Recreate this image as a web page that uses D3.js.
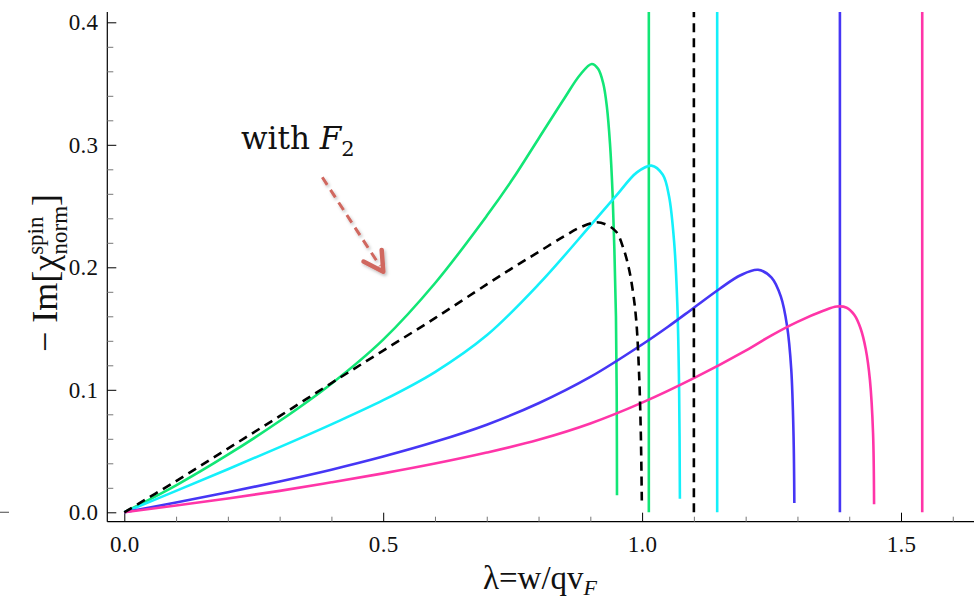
<!DOCTYPE html>
<html><head><meta charset="utf-8">
<script src="https://cdn.jsdelivr.net/npm/d3@7"></script>
<style>
html,body{margin:0;padding:0;background:#fff;}
svg{display:block;}
</style></head>
<body>
<svg id="chart" width="974" height="603"></svg>
<script>
// ---------------- data ----------------
const xMajorTicks = [0, 0.5, 1.0, 1.5];
const xMinorTicks = [0.1,0.2,0.3,0.4,0.6,0.7,0.8,0.9,1.1,1.2,1.3,1.4,1.6];
const yMajorTicks = [0, 0.1, 0.2, 0.3, 0.4];
const yMinorTicks = [0.02,0.04,0.06,0.08,0.12,0.14,0.16,0.18,0.22,0.24,0.26,0.28,0.32,0.34,0.36,0.38];

const seriesNames = ["green","cyan","blue","magenta","withF2"];
const seriesColors = ["#12e676","#14f0fa","#4636f5","#ff35a8","#000000"];

const greenX = [0,0.1,0.2,0.3,0.4,0.5,0.6,0.7,0.75,0.8,0.85,0.88,0.9027,0.915,0.925,0.932,0.938,0.943,0.9465,0.9495,0.951,0.9515];
const greenY = [0,0.022,0.047,0.0745,0.105,0.141,0.187,0.242,0.272,0.305,0.338,0.357,0.366,0.362,0.350,0.331,0.301,0.26,0.214,0.16,0.09,0.014];

const cyanX = [0,0.1,0.2,0.3,0.4,0.5,0.6,0.7,0.8,0.9,0.95,0.99,1.018,1.04,1.052,1.062,1.068,1.0715,1.073];
const cyanY = [0,0.0175,0.0352,0.0532,0.0718,0.0915,0.1145,0.1445,0.186,0.234,0.2585,0.2775,0.283,0.2755,0.258,0.22,0.17,0.10,0.011];

const blueX = [0,0.1,0.2,0.3,0.4,0.5,0.6,0.7,0.8,0.9,1.0,1.05,1.1,1.15,1.19,1.224,1.25,1.268,1.28,1.288,1.2925,1.294];
const blueY = [0,0.008,0.0163,0.0252,0.0348,0.0455,0.0575,0.0715,0.089,0.1105,0.137,0.1515,0.167,0.1825,0.1935,0.198,0.1915,0.176,0.152,0.117,0.062,0.0076];

const magentaX = [0,0.1,0.2,0.3,0.4,0.5,0.6,0.7,0.8,0.9,1.0,1.1,1.2,1.25,1.3,1.35,1.376,1.395,1.41,1.422,1.432,1.44,1.446,1.448];
const magentaY = [0,0.0056,0.0113,0.0175,0.0245,0.0318,0.0398,0.0488,0.0592,0.0725,0.0895,0.1095,0.132,0.1445,0.1555,0.1645,0.168,0.167,0.161,0.150,0.133,0.108,0.065,0.0065];

const dashedX = [0,0.1,0.2,0.3,0.4,0.5,0.6,0.7,0.75,0.8,0.85,0.88,0.91,0.93,0.95,0.965,0.975,0.983,0.989,0.994,0.9975,0.9995];
const dashedY = [0,0.0255,0.052,0.0785,0.1055,0.132,0.1585,0.186,0.1995,0.2125,0.2255,0.2325,0.2367,0.235,0.229,0.214,0.198,0.178,0.155,0.115,0.065,0.008];

// pole (vertical line) positions for each series
const poleX = [1.013, 1.145, 1.382, 1.541, 1.1];

// ---------------- layout ----------------
const svg = d3.select("#chart");
const x = d3.scaleLinear().domain([0, 1.5]).range([124.3, 901]);
const y = d3.scaleLinear().domain([0, 0.4]).range([512.3, 22.3]);
const pLeft = 107.3, pRight = 974, pTop = 12, pBottom = 521.7;
const xAxisDomain = [x.invert(pLeft), x.invert(pRight)];
const yAxisDomain = [y.invert(pBottom), y.invert(pTop)];

const defs = svg.append("defs");
defs.append("clipPath").attr("id","clip")
  .append("rect").attr("x",pLeft).attr("y",pTop).attr("width",pRight-pLeft).attr("height",pBottom-pTop);

const fontTick = "'Liberation Serif', 'Times New Roman', serif";

const xs = d3.scaleLinear().domain(xAxisDomain).range([pLeft, pRight]);
const ys = d3.scaleLinear().domain(yAxisDomain).range([pBottom, pTop]);

// x axis
const gx = svg.append("g").attr("transform",`translate(0,${pBottom})`);
gx.append("line").attr("x1",pLeft).attr("x2",pRight).attr("y1",0).attr("y2",0).attr("stroke","#000").attr("stroke-width",1.2);
gx.append("g").call(d3.axisBottom(xs).tickValues(xMinorTicks).tickSizeInner(-5).tickSizeOuter(0).tickFormat(""))
  .call(g=>{g.select(".domain").remove(); g.selectAll("line").attr("stroke","#777");});
gx.append("g").call(d3.axisBottom(xs).tickValues(xMajorTicks).tickSizeInner(-9).tickSizeOuter(0).tickPadding(14).tickFormat(d3.format(".1f")))
  .call(g=>{g.select(".domain").remove(); g.selectAll("line").attr("stroke","#000");
    g.selectAll("text").attr("font-family",fontTick).attr("font-size",23).attr("fill","#111").attr("letter-spacing","0.3px");});

// y axis
const gy = svg.append("g").attr("transform",`translate(${pLeft},0)`);
gy.append("line").attr("x1",0).attr("x2",0).attr("y1",pTop).attr("y2",pBottom).attr("stroke","#000").attr("stroke-width",1.2);
gy.append("g").call(d3.axisLeft(ys).tickValues(yMinorTicks).tickSizeInner(-6).tickSizeOuter(0).tickFormat(""))
  .call(g=>{g.select(".domain").remove(); g.selectAll("line").attr("stroke","#777");});
gy.append("g").call(d3.axisLeft(ys).tickValues(yMajorTicks).tickSizeInner(-9).tickSizeOuter(0).tickPadding(9).tickFormat(d3.format(".1f")))
  .call(g=>{g.select(".domain").remove(); g.selectAll("line").attr("stroke","#000");
    g.selectAll("text").attr("font-family",fontTick).attr("font-size",23).attr("fill","#111").attr("letter-spacing","0.3px");});

// stray short mark at left edge
svg.append("line").attr("x1",0).attr("x2",9).attr("y1",ys(0)).attr("y2",ys(0)).attr("stroke","#666").attr("stroke-width",1.2);

// ---------------- curves ----------------
const plot = svg.append("g").attr("clip-path","url(#clip)");
const line = d3.line().x(d=>xs(d[0])).y(d=>ys(d[1])).curve(d3.curveCatmullRom.alpha(0.5));
const allX = [greenX, cyanX, blueX, magentaX, dashedX];
const allY = [greenY, cyanY, blueY, magentaY, dashedY];

seriesNames.forEach((name,i)=>{
  const pts = allX[i].map((v,j)=>[v, allY[i][j]]);
  const dashed = name === "withF2";
  plot.append("path").datum(pts).attr("d",line)
    .attr("fill","none").attr("stroke",seriesColors[i]).attr("stroke-width",2.6)
    .attr("stroke-linejoin","round")
    .attr("stroke-dasharray", dashed ? "9,6" : null);
  plot.append("line")
    .attr("x1",xs(poleX[i])).attr("x2",xs(poleX[i]))
    .attr("y1",ys(0)).attr("y2",ys(yAxisDomain[1]))
    .attr("stroke",seriesColors[i]).attr("stroke-width",2.6)
    .attr("stroke-dasharray", dashed ? "9,6" : null);
});

// ---------------- labels ----------------
const xl = svg.append("text").attr("x",540).attr("y",589).attr("text-anchor","middle")
  .attr("font-family",fontTick).attr("font-size",33).attr("fill","#111");
xl.append("tspan").text("λ=w/qv");
xl.append("tspan").attr("font-style","italic").attr("font-size",22).attr("dy",6).text("F");

const yl = svg.append("text").attr("transform","translate(57,273) rotate(-90)").attr("text-anchor","middle")
  .attr("font-family",fontTick).attr("font-size",36).attr("fill","#111");
yl.append("tspan").text("−  Im[χ");
yl.append("tspan").attr("font-size",23).attr("dy",-14).text("spin");
yl.append("tspan").attr("font-size",23).attr("dx",-38).attr("dy",24).text("norm");
yl.append("tspan").attr("dy",-10).text("]");

const an = svg.append("text").attr("x",241).attr("y",148.5)
  .attr("font-family","'DejaVu Serif', serif").attr("font-size",31).attr("fill","#111");
an.append("tspan").text("with ");
an.append("tspan").attr("font-style","italic").text("F");
an.append("tspan").attr("font-size",21).attr("dy",7).text("2");

// arrow
const arrowColor = "#d0675f";
const f = defs.append("filter").attr("id","sh").attr("x","-50%").attr("y","-50%").attr("width","200%").attr("height","200%");
f.append("feDropShadow").attr("dx",1.5).attr("dy",2).attr("stdDeviation",1.5).attr("flood-color","#000").attr("flood-opacity",0.25);
const ag = svg.append("g").attr("filter","url(#sh)");
ag.append("line").attr("x1",322.3).attr("y1",177.3).attr("x2",380).attr("y2",266)
  .attr("stroke",arrowColor).attr("stroke-width",3).attr("stroke-dasharray","9,6");
ag.append("path").attr("d","M363.5,261.5 L383.3,271.7 L381.7,250")
  .attr("fill","none").attr("stroke",arrowColor).attr("stroke-width",4.5).attr("stroke-linecap","round").attr("stroke-linejoin","round");
</script>
</body></html>
